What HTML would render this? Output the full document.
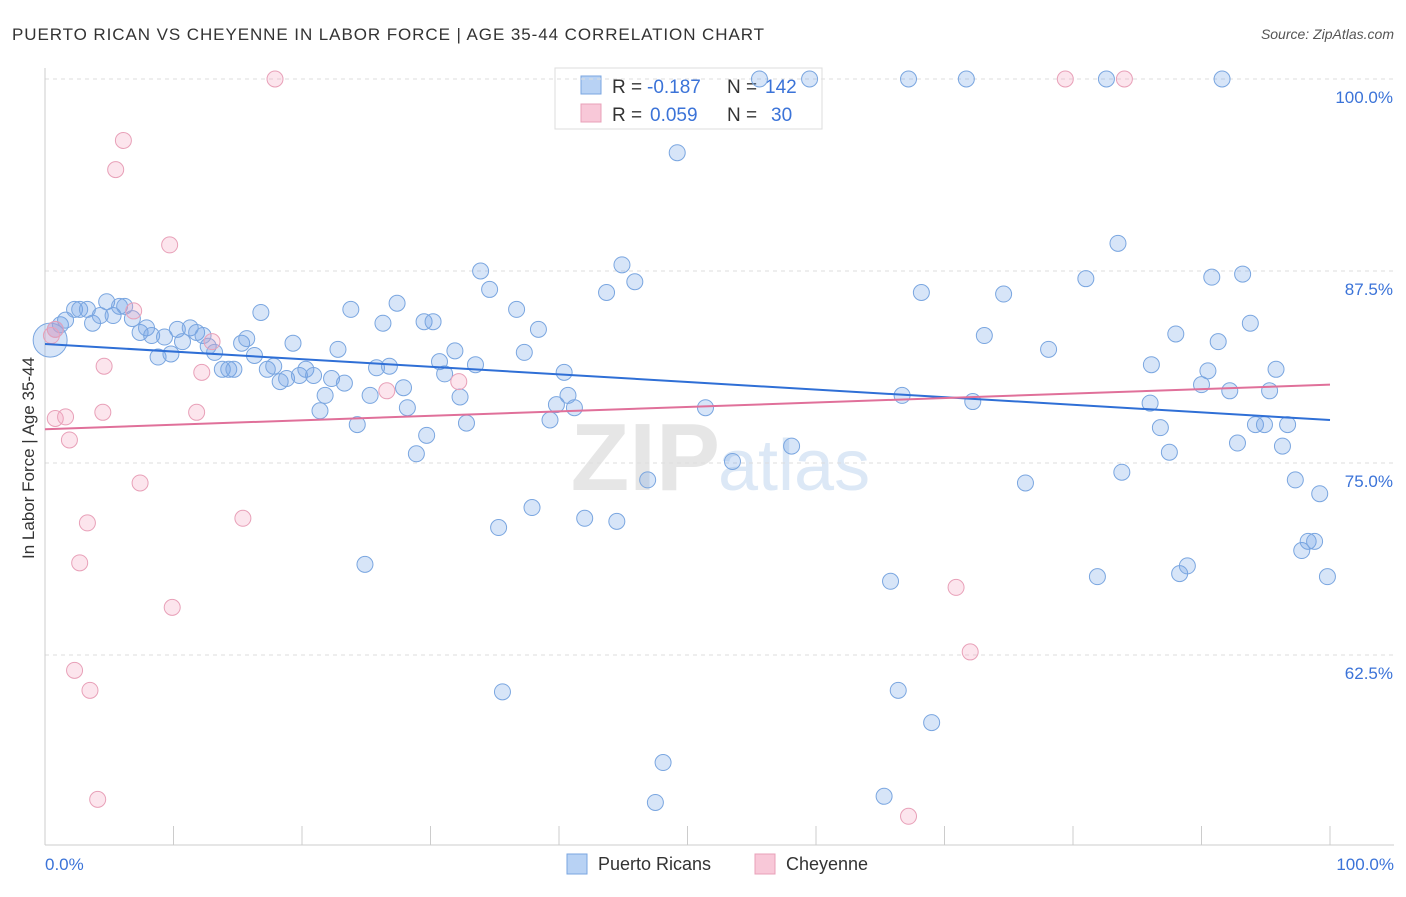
<!DOCTYPE html>
<html><head><meta charset="utf-8"><style>
body{margin:0;background:#fff;font-family:"Liberation Sans",sans-serif;}
svg text{font-family:"Liberation Sans",sans-serif;}
</style></head><body>
<svg id="chart" width="1406" height="892">
<text x="12" y="40" font-size="17" fill="#333" textLength="752">PUERTO RICAN VS CHEYENNE IN LABOR FORCE | AGE 35-44 CORRELATION CHART</text>
<text x="1394" y="39" font-size="14" fill="#555" text-anchor="end" font-style="italic">Source: ZipAtlas.com</text>
<text x="720" y="490" font-size="96" fill="#e6e6e6" text-anchor="end" font-family="Liberation Serif" font-weight="bold">ZIP</text>
<text x="718" y="490" font-size="72" fill="#dce8f6">atlas</text>
<g>
<rect x="555" y="68" width="267" height="61" fill="#fff" stroke="#ddd"/>
<rect x="581" y="76" width="20" height="18" fill="#b8d2f4" stroke="#7aa6e0"/>
<rect x="581" y="104" width="20" height="18" fill="#f8c8d8" stroke="#e8a0b8"/>
<text x="612" y="93" font-size="19" fill="#333">R =</text>
<text x="647" y="93" font-size="19" fill="#3b73d8">-0.187</text>
<text x="727" y="93" font-size="19" fill="#333">N =</text>
<text x="765" y="93" font-size="19" fill="#3b73d8">142</text>
<text x="612" y="121" font-size="19" fill="#333">R =</text>
<text x="650" y="121" font-size="19" fill="#3b73d8">0.059</text>
<text x="727" y="121" font-size="19" fill="#333">N =</text>
<text x="771" y="121" font-size="19" fill="#3b73d8">30</text>
</g>
<g id="grid"></g><g id="axes"></g><g id="marks"></g>
<text x="34" y="458" font-size="17" fill="#333" text-anchor="middle" transform="rotate(-90 34 458)">In Labor Force | Age 35-44</text>
<text x="45" y="870" font-size="17" fill="#3b73d8">0.0%</text>
<text x="1394" y="870" font-size="17" fill="#3b73d8" text-anchor="end">100.0%</text>
<g>
<rect x="567" y="854" width="20" height="20" fill="#b8d2f4" stroke="#7aa6e0"/>
<text x="598" y="870" font-size="18" fill="#333">Puerto Ricans</text>
<rect x="755" y="854" width="20" height="20" fill="#f8c8d8" stroke="#e8a0b8"/>
<text x="786" y="870" font-size="18" fill="#333">Cheyenne</text>
</g>
</svg>
<script>
const yTicks=[100,87.5,75,62.5];
const yTickLabels=["100.0%","87.5%","75.0%","62.5%"];
const xTicks=[0,10,20,30,40,50,60,70,80,90,100];
const blueX=[0.4,0.8,1.2,1.6,2.3,2.7,3.3,3.7,4.3,4.8,5.3,5.8,6.2,6.8,7.4,7.9,8.3,8.8,9.3,9.8,10.3,10.7,11.3,11.8,12.3,12.7,13.2,13.8,14.3,14.7,15.3,15.7,16.3,16.8,17.3,17.8,18.3,18.8,19.3,19.8,20.3,20.9,21.4,21.8,22.3,22.8,23.3,23.8,24.3,24.9,25.3,25.8,26.3,26.8,27.4,27.9,28.2,28.9,29.5,29.7,30.2,30.7,31.1,31.9,32.3,32.8,33.5,33.9,34.6,35.3,35.6,36.7,37.3,37.9,38.4,39.3,39.8,40.4,40.7,41.2,42.0,43.7,44.5,44.9,45.9,46.9,47.5,48.1,49.2,51.4,53.5,55.6,58.1,59.5,65.3,65.8,66.4,66.7,67.2,68.2,69.0,71.7,72.2,73.1,74.6,76.3,78.1,81.0,81.9,82.6,83.5,83.8,86.0,86.1,86.8,87.5,88.0,88.3,88.9,90.0,90.5,90.8,91.3,91.6,92.2,92.8,93.2,93.8,94.2,94.9,95.3,95.8,96.3,96.7,97.3,97.8,98.3,98.8,99.2,99.8];
const blueY=[83.0,83.7,84.0,84.3,85.0,85.0,85.0,84.1,84.6,85.5,84.6,85.2,85.2,84.4,83.5,83.8,83.3,81.9,83.2,82.1,83.7,82.9,83.8,83.5,83.3,82.6,82.2,81.1,81.1,81.1,82.8,83.1,82.0,84.8,81.1,81.3,80.3,80.5,82.8,80.7,81.1,80.7,78.4,79.4,80.5,82.4,80.2,85.0,77.5,68.4,79.4,81.2,84.1,81.3,85.4,79.9,78.6,75.6,84.2,76.8,84.2,81.6,80.8,82.3,79.3,77.6,81.4,87.5,86.3,70.8,60.1,85.0,82.2,72.1,83.7,77.8,78.8,80.9,79.4,78.6,71.4,86.1,71.2,87.9,86.8,73.9,52.9,55.5,95.2,78.6,75.1,100,76.1,100,53.3,67.3,60.2,79.4,100,86.1,58.1,100,79.0,83.3,86.0,73.7,82.4,87.0,67.6,100,89.3,74.4,78.9,81.4,77.3,75.7,83.4,67.8,68.3,80.1,81.0,87.1,82.9,100,79.7,76.3,87.3,84.1,77.5,77.5,79.7,81.1,76.1,77.5,73.9,69.3,69.9,69.9,73.0,67.6];
const pinkX=[0.5,0.8,1.6,1.9,2.3,3.3,2.7,3.5,4.1,4.6,4.5,5.5,6.1,6.9,7.4,9.7,9.9,11.8,12.2,13.0,15.4,17.9,26.6,32.2,67.2,70.9,72.0,79.4,84.0,0.8];
const pinkY=[83.3,77.9,78.0,76.5,61.5,71.1,68.5,60.2,53.1,81.3,78.3,94.1,96.0,84.9,73.7,89.2,65.6,78.3,80.9,82.9,71.4,100,79.7,80.3,52.0,66.9,62.7,100,100,83.7];
const blueTrend=[82.75,77.8];
const pinkTrend=[77.2,80.1];
const NS="http://www.w3.org/2000/svg";
const X=v=>45+v*12.85, Y=v=>79+(100-v)*15.36;
function mk(tag,attrs,parent){const e=document.createElementNS(NS,tag);for(const k in attrs)e.setAttribute(k,attrs[k]);parent.appendChild(e);return e;}
const grid=document.getElementById('grid'),axes=document.getElementById('axes'),marks=document.getElementById('marks');
yTicks.forEach((t,i)=>{
 const l=mk('line',{x1:45,x2:1394,y1:Y(t),y2:Y(t),stroke:'#ddd','stroke-dasharray':'4,4'},grid);
 
 
 const tx=mk('text',{x:1393,y:Y(t)+24,'font-size':17,fill:'#3b73d8','text-anchor':'end'},grid);
 tx.textContent=yTickLabels[i];
 
 
});
const ax=mk('line',{x1:45,x2:1394,y1:845,y2:845,stroke:'#ccc'},axes);


const ay=mk('line',{x1:45,x2:45,y1:68,y2:845,stroke:'#ccc'},axes);


xTicks.forEach(t=>{
 const l=mk('line',{x1:X(t),x2:X(t),y1:826,y2:845,stroke:'#ccc'},axes);
 
 
});
blueX.forEach((x,i)=>{
 const c=mk('circle',{cx:X(x),cy:Y(blueY[i]),r:i===0?17:8,fill:'rgba(110,160,230,0.28)',stroke:'#7aa6e0','stroke-width':1},marks);
 
 
});
pinkX.forEach((x,i)=>{
 const c=mk('circle',{cx:X(x),cy:Y(pinkY[i]),r:8,fill:'rgba(245,160,190,0.28)',stroke:'#e8a0b8','stroke-width':1},marks);
 
 
});
const bl=mk('line',{x1:X(0),x2:X(100),y1:Y(blueTrend[0]),y2:Y(blueTrend[1]),stroke:'#2f6fd6','stroke-width':2},marks);


const pl=mk('line',{x1:X(0),x2:X(100),y1:Y(pinkTrend[0]),y2:Y(pinkTrend[1]),stroke:'#e0709a','stroke-width':2},marks);


</script>
</body></html>
